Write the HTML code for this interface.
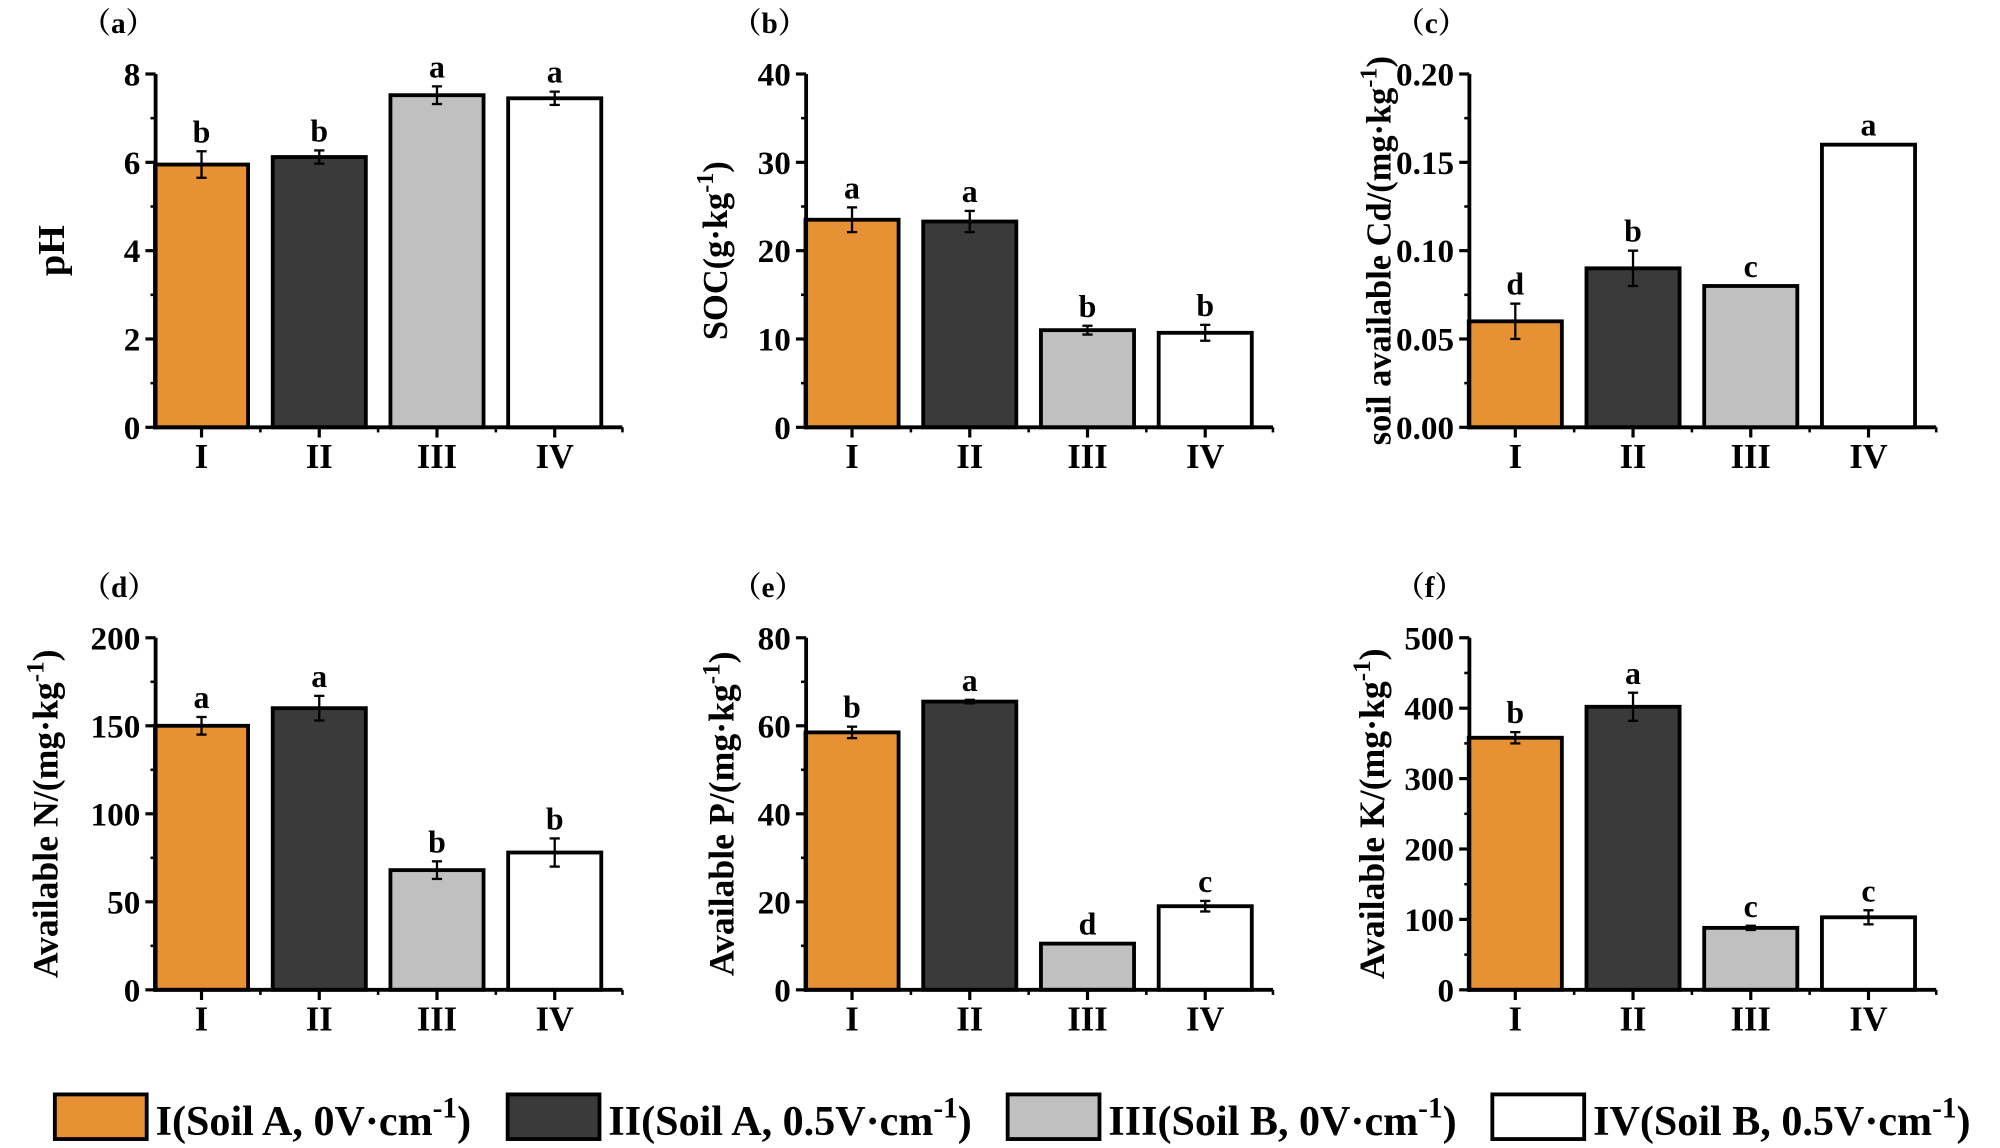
<!DOCTYPE html>
<html><head><meta charset="utf-8">
<style>
html,body{margin:0;padding:0;background:#fff;}
svg{display:block;}
text{font-family:"Liberation Serif","Noto Serif CJK SC",serif;font-weight:bold;fill:#000;}
</style></head>
<body>
<svg id="fig" width="2000" height="1148" viewBox="0 0 1568 900" xmlns="http://www.w3.org/2000/svg"></svg>
<script>
const categories = ["I","II","III","IV"];
const colors = ["#E69133","#3A3A3A","#C0C0C0","#FFFFFF"];
const phVals = [5.95,6.12,7.52,7.45];
const phErr = [0.3,0.15,0.2,0.15];
const phLetters = ["b","b","a","a"];
const socVals = [23.5,23.3,11.0,10.7];
const socErr = [1.4,1.2,0.5,0.9];
const socLetters = ["a","a","b","b"];
const cdVals = [0.06,0.09,0.08,0.16];
const cdErr = [0.01,0.01,0,0];
const cdLetters = ["d","b","c","a"];
const nVals = [150,160,68,78];
const nErr = [5,7,5,8];
const nLetters = ["a","a","b","b"];
const pVals = [58.5,65.5,10.5,19];
const pErr = [1.3,0.4,0,1.2];
const pLetters = ["b","a","d","c"];
const kVals = [358,402,88,103];
const kErr = [8,20,3,10];
const kLetters = ["b","a","c","c"];
const phTicks = [0,2,4,6,8];
const socTicks = [0,10,20,30,40];
const cdTicks = ["0.00","0.05","0.10","0.15","0.20"];
const nTicks = [0,50,100,150,200];
const pTicks = [0,20,40,60,80];
const kTicks = [0,100,200,300,400,500];
const legendLabels = ["I(Soil A, 0V·cm","II(Soil A, 0.5V·cm","III(Soil B, 0V·cm","IV(Soil B, 0.5V·cm"];

const svg = document.getElementById('fig');
const NS = "http://www.w3.org/2000/svg";
function mk(tag, attrs, parent){const e=document.createElementNS(NS,tag);for(const k in attrs)e.setAttribute(k,attrs[k]);(parent||svg).appendChild(e);return e;}

function panel(id, x0, yTop, yZero, ticks, vals, errs, letters, tag, title, sup, tsize){
  const g = mk('g',{});
  
  
  const max = parseFloat(ticks[ticks.length-1]);
  const y = v => yZero - (v/max)*(yZero-yTop);
  const W = 366, step = 92.3, bw = 73;
  const cx = i => x0 + 36 + i*step;
  vals.forEach((v,i)=>{
    const r = mk('rect',{x:cx(i)-bw/2,y:y(v),width:bw,height:yZero-y(v),fill:colors[i],stroke:'#000','stroke-width':3},g);
    
    
    const e = errs[i];
    if(e>0){
      mk('line',{x1:cx(i),x2:cx(i),y1:y(v+e),y2:y(v-e),stroke:'#000','stroke-width':1.8},g);
      mk('line',{x1:cx(i)-4,x2:cx(i)+4,y1:y(v+e),y2:y(v+e),stroke:'#000','stroke-width':1.8},g);
      mk('line',{x1:cx(i)-4,x2:cx(i)+4,y1:y(v-e),y2:y(v-e),stroke:'#000','stroke-width':1.8},g);
    }
    const t = mk('text',{x:cx(i),y:y(v+e)-7,'text-anchor':'middle','font-size':25},g);
    t.textContent = letters[i];
    
    
    const c = mk('text',{x:cx(i),y:yZero+32,'text-anchor':'middle','font-size':27},g);
    c.textContent = categories[i];
    
    
    mk('line',{x1:cx(i),x2:cx(i),y1:yZero,y2:yZero+8,stroke:'#000','stroke-width':2.5},g);
    if(i>0) mk('line',{x1:cx(i)-step/2,x2:cx(i)-step/2,y1:yZero,y2:yZero+4,stroke:'#000','stroke-width':2},g);
  });
  mk('line',{x1:x0+W,x2:x0+W,y1:yZero,y2:yZero+4,stroke:'#000','stroke-width':2},g);
  const ya = mk('line',{x1:x0,x2:x0,y1:yTop,y2:yZero+1.5,stroke:'#000','stroke-width':3},g);
  
  
  const xa = mk('line',{x1:x0-1.5,x2:x0+W,y1:yZero,y2:yZero,stroke:'#000','stroke-width':3},g);
  
  
  ticks.forEach((tk,j)=>{
    const v = parseFloat(tk);
    mk('line',{x1:x0-8,x2:x0,y1:y(v),y2:y(v),stroke:'#000','stroke-width':2.5},g);
    if(j<ticks.length-1){const m=(v+parseFloat(ticks[j+1]))/2;mk('line',{x1:x0-4,x2:x0,y1:y(m),y2:y(m),stroke:'#000','stroke-width':2},g);}
    const t = mk('text',{x:x0-12,y:y(v)+9,'text-anchor':'end','font-size':26},g);
    t.textContent = tk;
    
    
  });
  const lab = mk('text',{x:x0-58,y:yTop-32,'font-size':23},g);
  lab.textContent = tag;
  
  
  const ty = (yTop+yZero)/2;
  const tx = id==='a'?50:(id==='b'?570:(id==='c'?1090:(id==='d'?45:(id==='e'?575:1085))));
  const tt = mk('text',{x:tx,y:ty,'text-anchor':'middle','font-size':tsize,transform:`rotate(-90 ${tx} ${ty})`},g);
  
  
  tt.appendChild(document.createTextNode(title));
  if(sup){
    const s1 = mk('tspan',{'font-size':tsize*0.7,dy:-11},tt); s1.textContent = sup;
    const s2 = mk('tspan',{dy:11},tt); s2.textContent = ')';
  }
}
panel('a',122,58,335,phTicks,phVals,phErr,phLetters,'（a）','pH',null,30);
panel('b',632,58,335,socTicks,socVals,socErr,socLetters,'（b）','SOC(g·kg','-1',27);
panel('c',1152,58,335,cdTicks,cdVals,cdErr,cdLetters,'（c）','soil available Cd/(mg·kg','-1',27);
panel('d',122,500,776,nTicks,nVals,nErr,nLetters,'（d）','Available N/(mg·kg','-1',28);
panel('e',632,500,776,pTicks,pVals,pErr,pLetters,'（e）','Available P/(mg·kg','-1',28);
panel('f',1152,500,776,kTicks,kVals,kErr,kLetters,'（f）','Available K/(mg·kg','-1',28);

const lg = mk('g',{});


const boxX = [43,398,790,1170];
legendLabels.forEach((l,i)=>{
  const e = mk('g',{},lg);
  
  
  mk('rect',{x:boxX[i],y:858,width:72,height:35,fill:colors[i],stroke:'#000','stroke-width':3},e);
  const t = mk('text',{x:boxX[i]+79,y:890,'font-size':33},e);
  t.appendChild(document.createTextNode(l));
  const s = mk('tspan',{'font-size':23,dy:-14},t); s.textContent='-1';
  const s2 = mk('tspan',{dy:14},t); s2.textContent=')';
});
</script>
</body></html>
